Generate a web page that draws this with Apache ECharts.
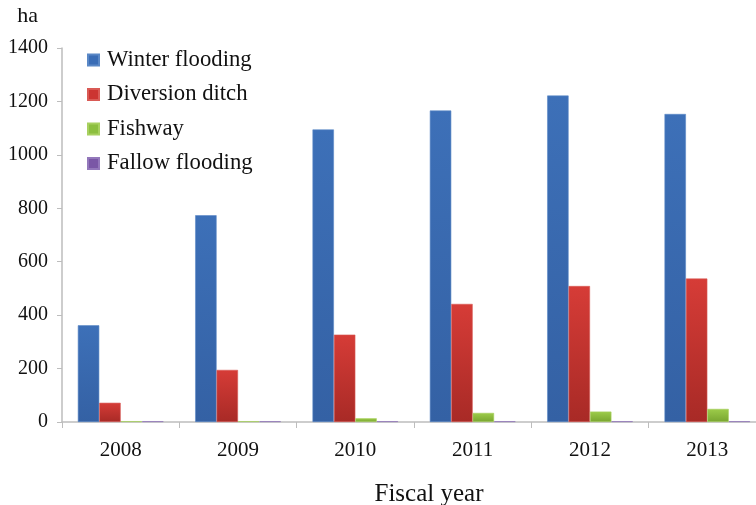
<!DOCTYPE html>
<html>
<head>
<meta charset="utf-8">
<script src="https://cdn.jsdelivr.net/npm/echarts@6/dist/echarts.min.js"></script>
<style>
  html, body { margin: 0; padding: 0; background: #fff; }
  #chart { width: 756px; height: 505px; }
</style>
</head>
<body>
<div id="chart"></div>
<script>
// Area (ha) of each measure by fiscal year
const years = ['2008', '2009', '2010', '2011', '2012', '2013'];
const winterFlooding = [362, 774, 1095, 1166, 1222, 1153];
const diversionDitch = [72, 195, 327, 442, 509, 537];
const fishway = [3, 3, 14, 34, 39, 49];
const fallowFlooding = [3, 3, 3, 3, 3, 3];
const yTicks = [0, 200, 400, 600, 800, 1000, 1200, 1400];

const FONT = 'Liberation Serif';

function shade(top, bottom) {
  return new echarts.graphic.LinearGradient(0, 0, 0, 1, [
    { offset: 0, color: top },
    { offset: 1, color: bottom }
  ]);
}

function barSeries(name, data, top, bottom, border) {
  return {
    name: name,
    type: 'bar',
    data: data,
    barGap: '0%',
    barCategoryGap: '27%',
    itemStyle: { color: shade(top, bottom), borderColor: border, borderWidth: 0.6 },
    emphasis: { disabled: true }
  };
}

const chart = echarts.init(document.getElementById('chart'), null, { renderer: 'canvas' });
chart.setOption({
  animation: false,
  backgroundColor: '#ffffff',
  textStyle: { fontFamily: FONT, color: '#111' },
  grid: { left: 62, right: -10, top: 48, bottom: 83, containLabel: false, outerBoundsMode: 'none' },
  legend: {
    orient: 'vertical',
    left: 82,
    top: 43.5,
    itemWidth: 11,
    itemHeight: 11,
    itemGap: 11.5,
    icon: 'rect',
    textStyle: { fontFamily: FONT, fontSize: 22.7, color: '#111', padding: [0, 0, 0, 3] },
    data: [
      { name: 'Winter flooding', itemStyle: { color: '#3a6db6' } },
      { name: 'Diversion ditch', itemStyle: { color: '#cc3431' } },
      { name: 'Fishway', itemStyle: { color: '#8cbf3f' } },
      { name: 'Fallow flooding', itemStyle: { color: '#7a57a6' } }
    ]
  },
  xAxis: {
    type: 'category',
    data: years,
    name: 'Fiscal year',
    nameLocation: 'middle',
    nameGap: 60,
    nameTextStyle: { fontFamily: FONT, fontSize: 25, color: '#111', padding: [0, 0, 0, 30] },
    axisLine: { lineStyle: { color: '#bdbdbd', width: 1.5 } },
    axisTick: { show: true, length: 6, lineStyle: { color: '#bdbdbd' } },
    axisLabel: { fontFamily: FONT, fontSize: 21, color: '#111', margin: 18 }
  },
  yAxis: {
    type: 'value',
    min: yTicks[0],
    max: yTicks[yTicks.length - 1],
    interval: 200,
    name: 'ha',
    nameLocation: 'end',
    nameGap: 21,
    nameTextStyle: { fontFamily: FONT, fontSize: 22, color: '#111', align: 'right', padding: [0, 24, 0, 0] },
    axisLine: { show: true, lineStyle: { color: '#bdbdbd', width: 1.5 } },
    axisTick: { show: true, length: 5, lineStyle: { color: '#bdbdbd' } },
    splitLine: { show: false },
    axisLabel: { fontFamily: FONT, fontSize: 20, color: '#111', margin: 14, formatter: v => String(v) }
  },
  series: [
    barSeries('Winter flooding', winterFlooding, '#3d70b8', '#3461a4', '#5a88c6'),
    barSeries('Diversion ditch', diversionDitch, '#d63c37', '#a82a26', '#d95a55'),
    barSeries('Fishway', fishway, '#9dcc4a', '#78a530', '#a8d060'),
    barSeries('Fallow flooding', fallowFlooding, '#8463b0', '#6a4a96', '#9378bb')
  ]
});
</script>
</body>
</html>
